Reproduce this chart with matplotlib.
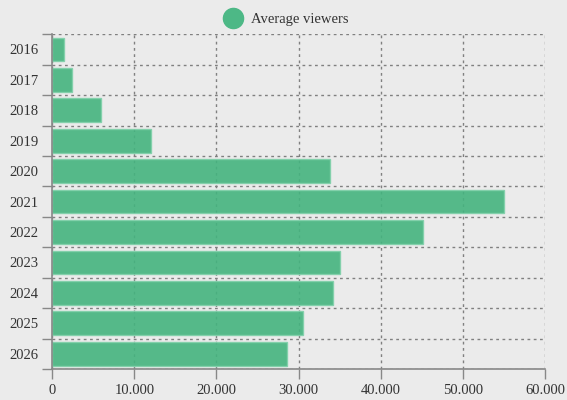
import matplotlib.pyplot as plt
import numpy as np
from matplotlib.lines import Line2D
from matplotlib.ticker import FuncFormatter, FixedLocator

plt.rcParams['font.family'] = ['Liberation Serif', 'DejaVu Serif']

years = ['2016', '2017', '2018', '2019', '2020', '2021', '2022', '2023', '2024', '2025', '2026']
viewers = [1500, 2400, 5900, 12000, 33800, 55000, 45200, 35100, 34200, 30500, 28600]
series_name = 'Average viewers'

bg = '#ebebeb'
fig = plt.figure(figsize=(5.67, 4.0), dpi=100, facecolor=bg)
ax = fig.add_axes([0.092, 0.0775, 0.869, 0.837])
ax.set_facecolor(bg)

y = np.arange(len(years))
ax.barh(y, viewers, height=0.78, color='#45b47f', edgecolor='#80d0aa',
        linewidth=1, alpha=0.9, zorder=2)

ax.set_xlim(0, 60000)
ax.set_ylim(len(years) - 0.5, -0.5)

# category boundaries carry the ticks/grid, labels sit in the middle
ax.yaxis.set_major_locator(FixedLocator(np.arange(-0.5, len(years), 1.0)))
ax.yaxis.set_major_formatter(FuncFormatter(lambda v, p: ''))
ax.yaxis.set_minor_locator(FixedLocator(y))
ax.set_yticks(y, labels=years, minor=True)
ax.tick_params(axis='y', which='minor', length=0, pad=10)
ax.tick_params(axis='y', which='major', length=7, color='#888888', width=1)

ax.set_xticks(np.arange(0, 60001, 10000))
ax.xaxis.set_major_formatter(FuncFormatter(lambda v, p: f'{int(v):,}'.replace(',', '.')))
ax.tick_params(axis='x', length=7, color='#888888', width=1, pad=4)
ax.tick_params(labelsize=10.5, labelcolor='#333333', which='both')

ax.grid(True, which='major', linestyle=(0, (2, 2.5)), color='#808080', linewidth=1, zorder=1)
ax.set_axisbelow(True)

for s in ['top', 'right']:
    ax.spines[s].set_visible(False)
for s in ['left', 'bottom']:
    ax.spines[s].set_color('#888888')
    ax.spines[s].set_linewidth(1.2)

handle = Line2D([], [], marker='o', linestyle='none', markersize=14.5,
                markerfacecolor='#4db886', markeredgecolor='#4db886')
fig.legend([handle], [series_name], loc='upper center', bbox_to_anchor=(0.5, 1.0),
           frameon=False, fontsize=10.5, handletextpad=0.2, labelcolor='#333333')

fig.savefig('out.png', dpi=100, facecolor=bg)
